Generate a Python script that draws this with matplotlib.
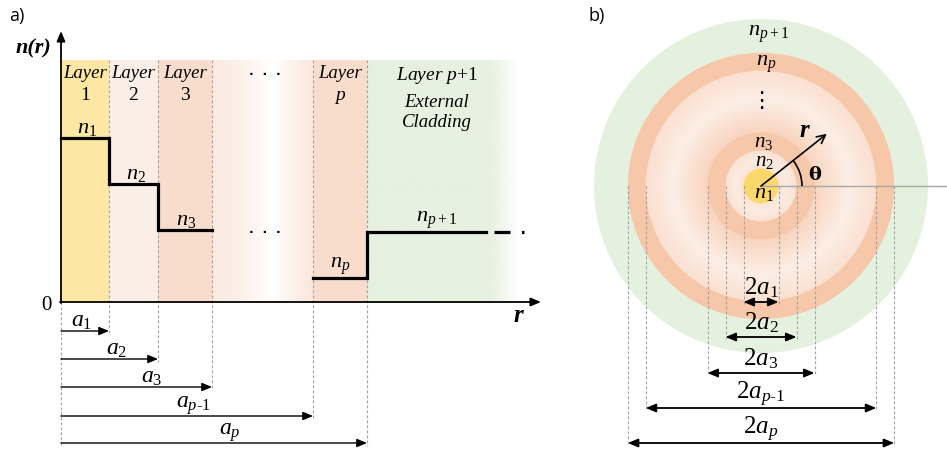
import numpy as np
import matplotlib
matplotlib.use('Agg')
import matplotlib.pyplot as plt
from matplotlib.patches import Rectangle, Circle, Arc
from matplotlib.colors import to_rgb

plt.rcParams['mathtext.fontset'] = 'custom'
plt.rcParams['mathtext.rm'] = 'Liberation Serif'
plt.rcParams['mathtext.it'] = 'Liberation Serif:italic'
plt.rcParams['mathtext.bf'] = 'Liberation Serif:bold'

# ---------------- data ----------------
# panel a: layer outer radii a1, a2, a3, a_{p-1}, a_p  (arbitrary units)
a_radii = [0.48, 0.97, 1.51, 2.52, 3.06]
a_labels = [r'$a_1$', r'$a_2$', r'$a_3$', r'$a_{p\text{-}1}$', r'$a_p$']
# refractive index levels n1, n2, n3, n_p, n_{p+1}
n_levels = [1.64, 1.18, 0.72, 0.24, 0.70]
n_labels = [r'$n_1$', r'$n_2$', r'$n_3$', r'$n_p$', r'$n_{p+1}$']
layer_names = ['1', '2', '3', 'p']
# panel b: radii of the cross-section (arbitrary units)
b_radii = [0.175, 0.355, 0.535, 1.153, 1.332]
b_clad = 1.67
b_labels = [r'$2a_1$', r'$2a_2$', r'$2a_3$', r'$2a_{p\text{-}1}$', r'$2a_p$']

# ---------------- figure ----------------
fig = plt.figure(figsize=(9.47, 4.52), dpi=100)
ax = fig.add_axes([0, 0, 1, 1])
ax.axis('off')

def P(px, py):
    return ((px - 61) / 100.0, (303 - py) / 100.0)

SERIF = 'Liberation Serif'
col_top = 2.42
c_yel = '#FEE6A4'
c_l2 = '#FBEEE6'
c_l3 = '#F9DDCC'
c_green = '#E6F1E0'

# ---- panel a backgrounds ----
ax.add_patch(Rectangle((0, 0), a_radii[0], col_top, color=c_yel, lw=0, zorder=1))
ax.add_patch(Rectangle((a_radii[0], 0), a_radii[1] - a_radii[0], col_top, color=c_l2, lw=0, zorder=1))
ax.add_patch(Rectangle((a_radii[1], 0), a_radii[2] - a_radii[1], col_top, color=c_l3, lw=0, zorder=1))
ax.add_patch(Rectangle((a_radii[3], 0), a_radii[4] - a_radii[3], col_top, color=c_l3, lw=0, zorder=1))

# gradient column between a3 and a_{p-1}
t = np.linspace(0, 1, 400)
stops_t = [0.0, 0.25, 0.60, 0.85, 1.0]
stops_c = [to_rgb('#FBEADF'), to_rgb('#FCEFE8'), to_rgb('#FFFFFF'), to_rgb('#FCEEE6'), to_rgb('#FBE6DA')]
img = np.zeros((1, len(t), 3))
for k in range(3):
    img[0, :, k] = np.interp(t, stops_t, [c[k] for c in stops_c])
ax.imshow(img, extent=(a_radii[2], a_radii[3], 0, col_top), aspect='auto',
          interpolation='bilinear', zorder=1)

# green cladding fading out
g_end = 4.57
g_fade = 4.28
t2 = np.linspace(a_radii[4], g_end, 400)
img2 = np.ones((1, len(t2), 4))
gc = to_rgb(c_green)
for k in range(3):
    img2[0, :, k] = gc[k]
img2[0, :, 3] = np.clip((g_end - t2) / (g_end - g_fade), 0, 1)
ax.imshow(img2, extent=(a_radii[4], g_end, 0, col_top), aspect='auto',
          interpolation='bilinear', zorder=1)

# ---- dashed guide lines panel a ----
arrow_y_a = [-0.29, -0.57, -0.85, -1.14, -1.41]
dash_kw = dict(color='#A0A0A0', lw=0.8, linestyle=(0, (2.5, 2)), zorder=2)
ax.plot([0, 0], [0, arrow_y_a[-1] - 0.03], **dash_kw)
for r, yb in zip(a_radii, arrow_y_a):
    ax.plot([r, r], [col_top, yb - 0.03], **dash_kw)

# ---- step profile ----
lw_step = 2.3
ax.plot([0, a_radii[0], a_radii[0], a_radii[1], a_radii[1], a_radii[2]],
        [n_levels[0], n_levels[0], n_levels[1], n_levels[1], n_levels[2], n_levels[2]],
        color='black', lw=lw_step, solid_joinstyle='miter', zorder=4)
ax.plot([a_radii[3], a_radii[4], a_radii[4], 4.25],
        [n_levels[3], n_levels[3], n_levels[4], n_levels[4]],
        color='black', lw=lw_step, solid_joinstyle='miter', zorder=4)
ax.plot([4.33, 4.63], [n_levels[4], n_levels[4]], color='black', lw=lw_step,
        linestyle=(0, (5.0, 3.6)), zorder=4)

# index labels panel a
n_lab_pos = [P(87, 128), P(136, 174), P(186, 220), P(340, 266), P(437, 220)]
for lab, (x, y) in zip(n_labels, n_lab_pos):
    ax.text(x, y, lab, fontsize=16, ha='center', va='center', zorder=5)

# layer titles
centers = [(0 + a_radii[0]) / 2, (a_radii[0] + a_radii[1]) / 2,
           (a_radii[1] + a_radii[2]) / 2, (a_radii[3] + a_radii[4]) / 2]
for cx_, name in zip(centers, layer_names):
    ax.text(cx_, P(0, 73)[1], 'Layer', family=SERIF, style='italic', fontsize=13.5,
            ha='center', va='center', zorder=5)
    ax.text(cx_, P(0, 96)[1], name, family=SERIF, fontsize=14,
            style='italic' if name == 'p' else 'normal', ha='center', va='center', zorder=5)
ax.text(P(437, 0)[0], P(0, 75)[1], r'$\mathit{Layer}\ p\mathrm{+1}$', fontsize=14,
        ha='center', va='center', zorder=5)
ax.text(P(437, 0)[0], P(0, 103)[1], 'External', family=SERIF, style='italic',
        fontsize=13.5, ha='center', va='center', zorder=5)
ax.text(P(437, 0)[0], P(0, 123)[1], 'Cladding', family=SERIF, style='italic',
        fontsize=13.5, ha='center', va='center', zorder=5)
for (x, y) in [P(265, 72), P(265, 230)]:
    ax.text(x, y, '.  .  .', family='DejaVu Sans', fontweight='bold', fontsize=9,
            ha='center', va='center', zorder=5)

# axes arrows
ax.annotate('', xy=(0, 2.71), xytext=(0, -0.01),
            arrowprops=dict(arrowstyle='-|>,head_length=0.6,head_width=0.25', color='black',
                            lw=1.3, mutation_scale=10, shrinkA=0, shrinkB=0), zorder=6)
ax.annotate('', xy=(4.80, 0), xytext=(-0.01, 0),
            arrowprops=dict(arrowstyle='-|>,head_length=0.6,head_width=0.25', color='black',
                            lw=1.3, mutation_scale=10, shrinkA=0, shrinkB=0), zorder=6)
ax.text(*P(33, 48), 'n(r)', family=SERIF, fontweight='bold', style='italic',
        fontsize=16, ha='center', va='center')
ax.text(*P(518, 316), 'r', family=SERIF, fontweight='bold', style='italic',
        fontsize=18, ha='center', va='center')
ax.text(*P(46, 306), '0', family=SERIF, fontsize=15, ha='center', va='center')
ax.text(*P(17, 16), 'a)', family='Open Sans', fontsize=13, ha='center', va='center')

# radius arrows panel a
a_lab_x = [82, 117, 152, 193, 230]
for r, yb, lab, lx in zip(a_radii, arrow_y_a, a_labels, a_lab_x):
    ax.annotate('', xy=(r, yb), xytext=(0, yb),
                arrowprops=dict(arrowstyle='-|>,head_length=0.6,head_width=0.25', color='black',
                                lw=1.0, mutation_scale=10, shrinkA=0, shrinkB=0), zorder=6)
    ax.text(P(lx, 0)[0], yb + 0.12, lab, fontsize=17, ha='center', va='center')

# ---------------- panel b ----------------
cx, cy = P(761, 187)
c_peach = '#F6C7A9'

def grad(f, tt, cs):
    cs = [to_rgb(c) for c in cs]
    return tuple(float(np.interp(f, tt, [c[k] for c in cs])) for k in range(3))

ax.add_patch(Circle((cx, cy), b_clad, color='#E5F1DF', lw=0, zorder=1))
ax.add_patch(Circle((cx, cy), b_radii[4], color=c_peach, lw=0, zorder=1))
# gradient region a3..a_{p-1}
N = 70
for i in range(N):
    r = b_radii[3] - (b_radii[3] - b_radii[2]) * i / N
    f = (r - b_radii[2]) / (b_radii[3] - b_radii[2])
    col = grad(f, [0.0, 0.55, 1.0], ['#F8D4BF', '#FCEEE6', '#FAE0D1'])
    ax.add_patch(Circle((cx, cy), r, color=col, lw=0, zorder=1))
ax.add_patch(Circle((cx, cy), b_radii[2], color=c_peach, lw=0, zorder=1))
N2 = 40
for i in range(N2):
    r = b_radii[1] - (b_radii[1] - b_radii[0]) * i / N2
    f = (r - b_radii[0]) / (b_radii[1] - b_radii[0])
    col = grad(f, [0.0, 0.5, 1.0], ['#FBE4D8', '#FCEBE1', '#FAE2D4'])
    ax.add_patch(Circle((cx, cy), r, color=col, lw=0, zorder=1))
ax.add_patch(Circle((cx, cy), b_radii[0], color='#FCD86C', lw=0, zorder=1))

# horizontal reference line
ax.plot([cx, 8.86], [cy, cy], color='#A6A6A6', lw=1.0, zorder=3)

# dashed guides and diameter arrows
arrow_y_b = [0.00, -0.35, -0.71, -1.06, -1.41]
for r, yb, lab in zip(b_radii, arrow_y_b, b_labels):
    for s in (-1, 1):
        ax.plot([cx + s * r, cx + s * r], [cy, yb - 0.03], **dash_kw)
    ax.annotate('', xy=(cx + r, yb), xytext=(cx - r, yb),
                arrowprops=dict(arrowstyle='<|-|>,head_length=0.6,head_width=0.25', color='black',
                                lw=1.3, mutation_scale=10, shrinkA=0, shrinkB=0), zorder=6)
    ax.text(cx, yb + 0.15, lab, fontsize=18, ha='center', va='center', zorder=6)

# r arrow and angle
ang = np.deg2rad(38.4)
L = 0.84
ax.annotate('', xy=(cx + L * np.cos(ang), cy + L * np.sin(ang)), xytext=(cx, cy),
            arrowprops=dict(arrowstyle='->,head_length=0.6,head_width=0.3', color='black',
                            lw=1.2, mutation_scale=10, shrinkA=0, shrinkB=0), zorder=6)
ax.add_patch(Arc((cx, cy), 0.82, 0.82, theta1=0, theta2=38.4, color='black', lw=1.2, zorder=6))
ax.text(*P(804, 131), 'r', family=SERIF, fontweight='bold', style='italic',
        fontsize=18, ha='center', va='center', zorder=6)
ax.text(*P(815, 175), 'θ', family='DejaVu Serif', fontweight='bold', fontsize=14,
        ha='center', va='center', zorder=6)

b_n_pos = [P(764, 193), P(764, 161), P(764, 142), P(766, 64), P(769, 34)]
b_n_size = [16, 15, 15, 16, 16]
for lab, (x, y), fs in zip(n_labels, b_n_pos, b_n_size):
    ax.text(x, y, lab, fontsize=fs, ha='center', va='center', zorder=6)
ax.text(*P(761, 101), '⋮', family='DejaVu Sans', fontsize=16, ha='center', va='center', zorder=6)
ax.text(*P(597, 16), 'b)', family='Open Sans', fontsize=13, ha='center', va='center')

ax.set_xlim(-0.61, 8.86)
ax.set_ylim(-1.49, 3.03)
fig.savefig('out.png', dpi=100)
